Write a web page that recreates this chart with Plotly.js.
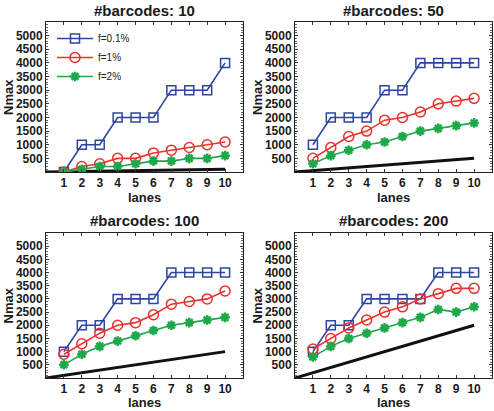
<!DOCTYPE html>
<html><head><meta charset="utf-8">
<script src="https://cdn.plot.ly/plotly-3.0.1.min.js"></script>
<style>html,body{margin:0;padding:0;background:#fff;}#chart{width:494px;height:411px;}</style>
</head><body><div id="chart"></div>
<script>
const lanes = [1,2,3,4,5,6,7,8,9,10];
const barcodes = [10, 50, 100, 200];
const seriesNames = ["f=0.1%", "f=1%", "f=2%"];
const f01 = [
  [0,1000,1000,2000,2000,2000,3000,3000,3000,4000],
  [1000,2000,2000,2000,3000,3000,4000,4000,4000,4000],
  [1000,2000,2000,3000,3000,3000,4000,4000,4000,4000],
  [1000,2000,2000,3000,3000,3000,3000,4000,4000,4000]
];
const f1 = [
  [0,200,300,500,500,700,800,900,1000,1100],
  [500,900,1300,1500,1900,2000,2200,2500,2600,2700],
  [900,1300,1700,2000,2100,2400,2800,2900,3000,3300],
  [1100,1500,1900,2200,2500,2700,3000,3200,3400,3400]
];
const f2 = [
  [0,100,200,200,300,400,400,500,500,600],
  [300,600,800,1000,1100,1300,1500,1600,1700,1800],
  [500,900,1200,1400,1600,1800,2000,2100,2200,2300],
  [800,1200,1500,1700,1900,2100,2300,2600,2500,2700]
];
const refX = [0, 10];
const refY = [[0,100],[0,500],[0,1000],[0,2000]];
const yTicks = [500,1000,1500,2000,2500,3000,3500,4000,4500,5000];

const W = 494, H = 411;
const xDom = [[46/W, 243/W],[295/W, 492/W],[46/W, 243/W],[295/W, 492/W]];
const yDom = [[1-172/H, 1-22/H],[1-172/H, 1-22/H],[1-378/H, 1-233/H],[1-378/H, 1-233/H]];

const FONT = "Liberation Sans, Arial, sans-serif";
const TXT = "#1a1a1a";
const colors = ["#2c46a0", "#e8322e", "#1fa84a"];
const traces = [];
const layout = {
  width: W, height: H, margin: {l:0,r:0,t:0,b:0},
  paper_bgcolor: "#fff", plot_bgcolor: "#fff",
  font: {family: FONT, color: TXT},
  showlegend: true,
  legend: {x: 52/W, y: 1-24/H, xanchor: "left", yanchor: "top",
           bgcolor: "rgba(255,255,255,0)", borderwidth: 0,
           font: {family: FONT, size: 10, color: "#222"}, tracegroupgap: 0,
           itemwidth: 36},
  annotations: []
};
const data3 = [f01, f1, f2];
const markers = [
  {symbol: "square-open", size: 9, lw: 1.5},
  {symbol: "circle-open", size: 10, lw: 1.5},
  {symbol: "asterisk-open", size: 8, lw: 2.5}
];
for (let p = 0; p < 4; p++) {
  const sfx = p === 0 ? "" : String(p+1);
  const xa = "x" + sfx, ya = "y" + sfx;
  traces.push({x: refX, y: refY[p], xaxis: xa, yaxis: ya, mode: "lines",
    line: {color: "#111", width: 3}, showlegend: false, hoverinfo: "skip"});
  for (let s = 0; s < 3; s++) {
    const m = markers[s];
    traces.push({x: lanes, y: data3[s][p], xaxis: xa, yaxis: ya,
      name: seriesNames[s], mode: "lines+markers",
      line: {color: colors[s], width: 1.6},
      marker: {symbol: m.symbol, size: m.size, color: colors[s],
               line: {color: colors[s], width: m.lw}},
      showlegend: p === 0});
  }
  layout["xaxis" + sfx] = {
    domain: xDom[p], anchor: ya, range: [0, 11], tickvals: lanes,
    ticks: "inside", ticklen: 3, tickcolor: "#333", showline: true, linecolor: "#222",
    linewidth: 1, mirror: "ticks", showgrid: false, zeroline: false,
    tickfont: {family: FONT, size: 12, weight: "bold", color: TXT}
  };
  layout["yaxis" + sfx] = {
    domain: yDom[p], anchor: xa, range: [0, 5500], tickvals: yTicks,
    ticks: "inside", ticklen: 3, tickcolor: "#333", showline: true, linecolor: "#222",
    linewidth: 1, mirror: "ticks", showgrid: false, zeroline: false,
    minor: {dtick: 100, ticks: "inside", ticklen: 2, tickcolor: "#666", showgrid: false},
    tickfont: {family: FONT, size: 12, weight: "bold", color: TXT}
  };
  const xc = (xDom[p][0] + xDom[p][1]) / 2;
  const yc = (yDom[p][0] + yDom[p][1]) / 2;
  layout.annotations.push({text: "#barcodes: " + barcodes[p], xref: "paper", yref: "paper",
    x: xc, y: yDom[p][1] + 12/H, xanchor: "center", yanchor: "middle", borderpad: 0,
    showarrow: false, font: {family: FONT, size: 15, weight: "bold", color: TXT}});
  const top = p < 2;
  layout.annotations.push({text: "lanes", xref: "paper", yref: "paper",
    x: xc, y: top ? yDom[p][0] - 25/H : 0, xanchor: "center", yanchor: top ? "middle" : "bottom",
    borderpad: 0, showarrow: false, font: {family: FONT, size: 13, weight: "bold", color: TXT}});
  layout.annotations.push({text: "Nmax", xref: "paper", yref: "paper", textangle: -90,
    x: xDom[p][0] - 38/W, y: yc, xanchor: "center", yanchor: "middle", borderpad: 0,
    showarrow: false, font: {family: FONT, size: 13, weight: "bold", color: TXT}});
}
Plotly.newPlot("chart", traces, layout, {displayModeBar: false, staticPlot: true});
</script></body></html>
